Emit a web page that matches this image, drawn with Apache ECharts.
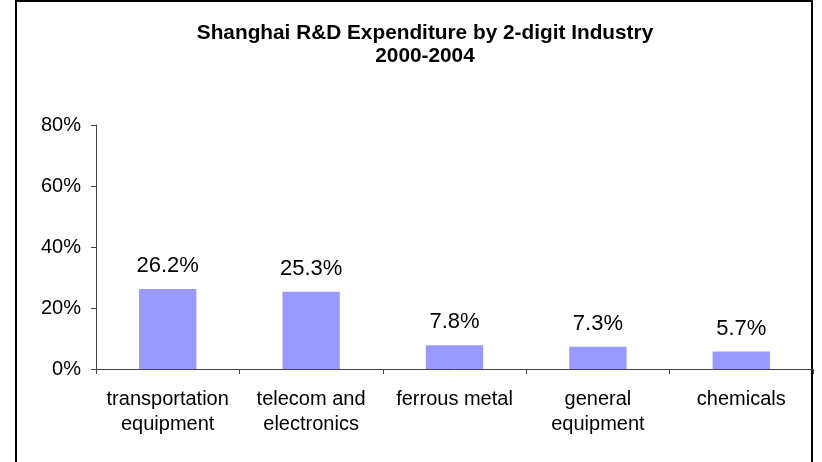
<!DOCTYPE html>
<html><head><meta charset="utf-8">
<script src="https://cdn.jsdelivr.net/npm/echarts@6/dist/echarts.min.js"></script>
<style>html,body{margin:0;padding:0;background:#fff}#c{width:822px;height:462px}</style>
</head><body><div id="c"></div>
<script>
const categories = ['transportation\nequipment', 'telecom and\nelectronics', 'ferrous metal', 'general\nequipment', 'chemicals'];
const values = [26.2, 25.3, 7.8, 7.3, 5.7];
const yTicks = [0, 20, 40, 60, 80];
const titleLines = ['Shanghai R&D Expenditure by 2-digit Industry', '2000-2004'];

const chart = echarts.init(document.getElementById('c'), null, {renderer: 'canvas'});
const font = 'Arial, "Liberation Sans", sans-serif';
chart.setOption({
  animation: false,
  backgroundColor: '#fff',
  title: {
    text: titleLines.join('\n'),
    left: 425, top: 22, textAlign: 'center', padding: 0,
    textStyle: {fontFamily: font, fontWeight: 'bold', fontSize: 20.8, lineHeight: 23, color: '#000'}
  },
  graphic: [{
    type: 'rect', shape: {x: 16, y: 1, width: 796, height: 480},
    style: {fill: 'none', stroke: '#000', lineWidth: 2}, silent: true
  }],
  grid: {left: 96, right: 9, top: 125, bottom: 93, containLabel: false},
  xAxis: {
    type: 'category', data: categories,
    axisLine: {lineStyle: {color: '#444', width: 1}},
    axisTick: {show: true, length: 5, lineStyle: {color: '#444'}, alignWithLabel: false},
    axisLabel: {fontFamily: font, fontSize: 20, color: '#000', lineHeight: 25, margin: 18, interval: 0}
  },
  yAxis: {
    type: 'value', min: yTicks[0], max: yTicks[yTicks.length - 1], interval: 20,
    axisLine: {show: true, lineStyle: {color: '#444', width: 1}},
    axisTick: {show: true, length: 5, lineStyle: {color: '#444'}},
    splitLine: {show: false},
    axisLabel: {fontFamily: font, fontSize: 20, color: '#000', margin: 15, formatter: v => v + '%'}
  },
  series: [{
    type: 'bar', data: values, barWidth: '40%',
    itemStyle: {color: '#9999FF'},
    label: {show: true, position: 'top', distance: 12, fontFamily: font, fontSize: 22, color: '#000',
      formatter: p => p.value.toFixed(1) + '%'}
  }]
});
</script></body></html>
